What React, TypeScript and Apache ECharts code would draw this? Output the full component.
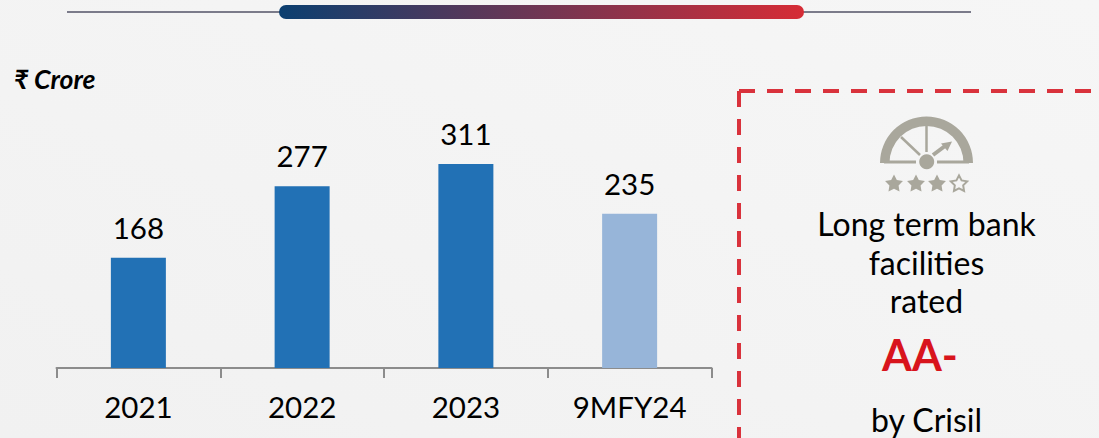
import React, { useEffect, useRef } from "react";
import * as echarts from "echarts";

const categories = ["2021", "2022", "2023", "9MFY24"];
const values = [168, 277, 311, 235];
const barColors = ["#2271b5", "#2271b5", "#2271b5", "#97b5d9"];
const unitLabel = "₹ Crore";
const ratingLines = ["Long term bank", "facilities", "rated"];
const ratingGrade = "AA-";
const ratingSource = "by Crisil";

const FONT = "Lato, Carlito, 'Noto Sans', sans-serif";
const ICON = "#a9a79c";

function starPoints(cx: number, cy: number, R: number, r: number) {
  const pts: number[][] = [];
  for (let i = 0; i < 10; i++) {
    const a = -Math.PI / 2 + (i * Math.PI) / 5;
    const q = i % 2 === 0 ? R : r;
    pts.push([cx + q * Math.cos(a), cy + q * Math.sin(a)]);
  }
  return pts;
}

export default function App() {
  const ref = useRef<HTMLDivElement>(null);
  useEffect(() => {
    const chart = echarts.init(ref.current!, null, { renderer: "svg" });
    const cx = 926.5;
    const cy = 163;
    const centerText = (text: string, y: number, size: number, color = "#000", weight: any = 400, x = cx) => ({
      type: "text",
      x,
      y,
      style: { text, fill: color, font: `${weight} ${size}px ${FONT}`, textAlign: "center", textVerticalAlign: "middle" },
    });
    chart.setOption({
      animation: false,
      backgroundColor: {
        type: "linear",
        x: 0,
        y: 1,
        x2: 1,
        y2: 0,
        colorStops: [
          { offset: 0, color: "#f1f1f1" },
          { offset: 1, color: "#f6f6f6" },
        ],
      },
      grid: { left: 56.5, top: 40, width: 655, height: 328 },
      xAxis: {
        type: "category",
        data: categories,
        axisLine: { show: true, lineStyle: { color: "#8c8c8c", width: 2 } },
        axisTick: { show: true, alignWithLabel: false, length: 10, lineStyle: { color: "#8c8c8c", width: 2 } },
        axisLabel: { color: "#000", fontFamily: FONT, fontSize: 29.5, margin: 23 },
      },
      yAxis: { type: "value", min: 0, max: 500, show: false },
      series: [
        {
          type: "bar",
          barWidth: 55,
          data: values.map((value, i) => ({ value, itemStyle: { color: barColors[i] } })),
          label: { show: true, position: "top", distance: 15.5, color: "#000", fontFamily: FONT, fontSize: 29.5 },
        },
      ],
      graphic: [
        { type: "line", shape: { x1: 67, y1: 12, x2: 971, y2: 12 }, style: { stroke: "#7b7b8a", lineWidth: 2 } },
        {
          type: "rect",
          shape: { x: 279, y: 5, width: 525, height: 14, r: 7 },
          style: {
            fill: {
              type: "linear",
              x: 0,
              y: 0,
              x2: 1,
              y2: 0,
              colorStops: [
                { offset: 0, color: "#0b3f70" },
                { offset: 1, color: "#d62c36" },
              ],
            },
          },
        },
        {
          type: "text",
          x: 14,
          y: 79,
          style: { text: unitLabel, fill: "#000", font: `italic 700 26.6px ${FONT}`, textVerticalAlign: "middle" },
        },
        {
          type: "line",
          shape: { x1: 739, y1: 91, x2: 1099, y2: 91 },
          style: { stroke: "#d9323c", lineWidth: 4, lineDash: [16, 12] },
        },
        {
          type: "line",
          shape: { x1: 739, y1: 91, x2: 739, y2: 438 },
          style: { stroke: "#d9323c", lineWidth: 4, lineDash: [16, 12] },
        },
        // Gauge icon
        {
          type: "sector",
          shape: { cx, cy, r: 46.5, r0: 37, startAngle: Math.PI, endAngle: 2 * Math.PI, clockwise: true },
          style: { fill: ICON },
        },
        { type: "line", shape: { x1: 884, y1: 162, x2: 916, y2: 162 }, style: { stroke: ICON, lineWidth: 3 } },
        { type: "line", shape: { x1: 937, y1: 162, x2: 969, y2: 162 }, style: { stroke: ICON, lineWidth: 3 } },
        { type: "line", shape: { x1: 926.5, y1: 125, x2: 926.5, y2: 152 }, style: { stroke: ICON, lineWidth: 2.5 } },
        { type: "line", shape: { x1: 901, y1: 137, x2: 920, y2: 155 }, style: { stroke: ICON, lineWidth: 2.5 } },
        { type: "line", shape: { x1: 933, y1: 155, x2: 945, y2: 146 }, style: { stroke: ICON, lineWidth: 4 } },
        { type: "polygon", shape: { points: [[952, 141.5], [941, 143.5], [947.5, 151]] }, style: { fill: ICON } },
        { type: "circle", shape: { cx: 926.7, cy: 161.7, r: 7.5 }, style: { fill: ICON } },
        ...[894, 916, 937].map((x) => ({
          type: "polygon",
          shape: { points: starPoints(x, 184, 9.4, 4.8) },
          style: { fill: ICON },
        })),
        {
          type: "polygon",
          shape: { points: starPoints(959, 184, 8.6, 4.4) },
          style: { fill: "none", stroke: ICON, lineWidth: 2 },
        },
        ...ratingLines.map((t, i) => centerText(t, [223, 262, 300][i], 32)),
        centerText(ratingGrade, 354, 43, "#d8141c", 700, 920),
        centerText(ratingSource, 419, 32),
      ],
    });
    return () => chart.dispose();
  }, []);
  return <div ref={ref} style={{ position: "fixed", left: 0, top: 0, width: 1099, height: 438 }} />;
}
